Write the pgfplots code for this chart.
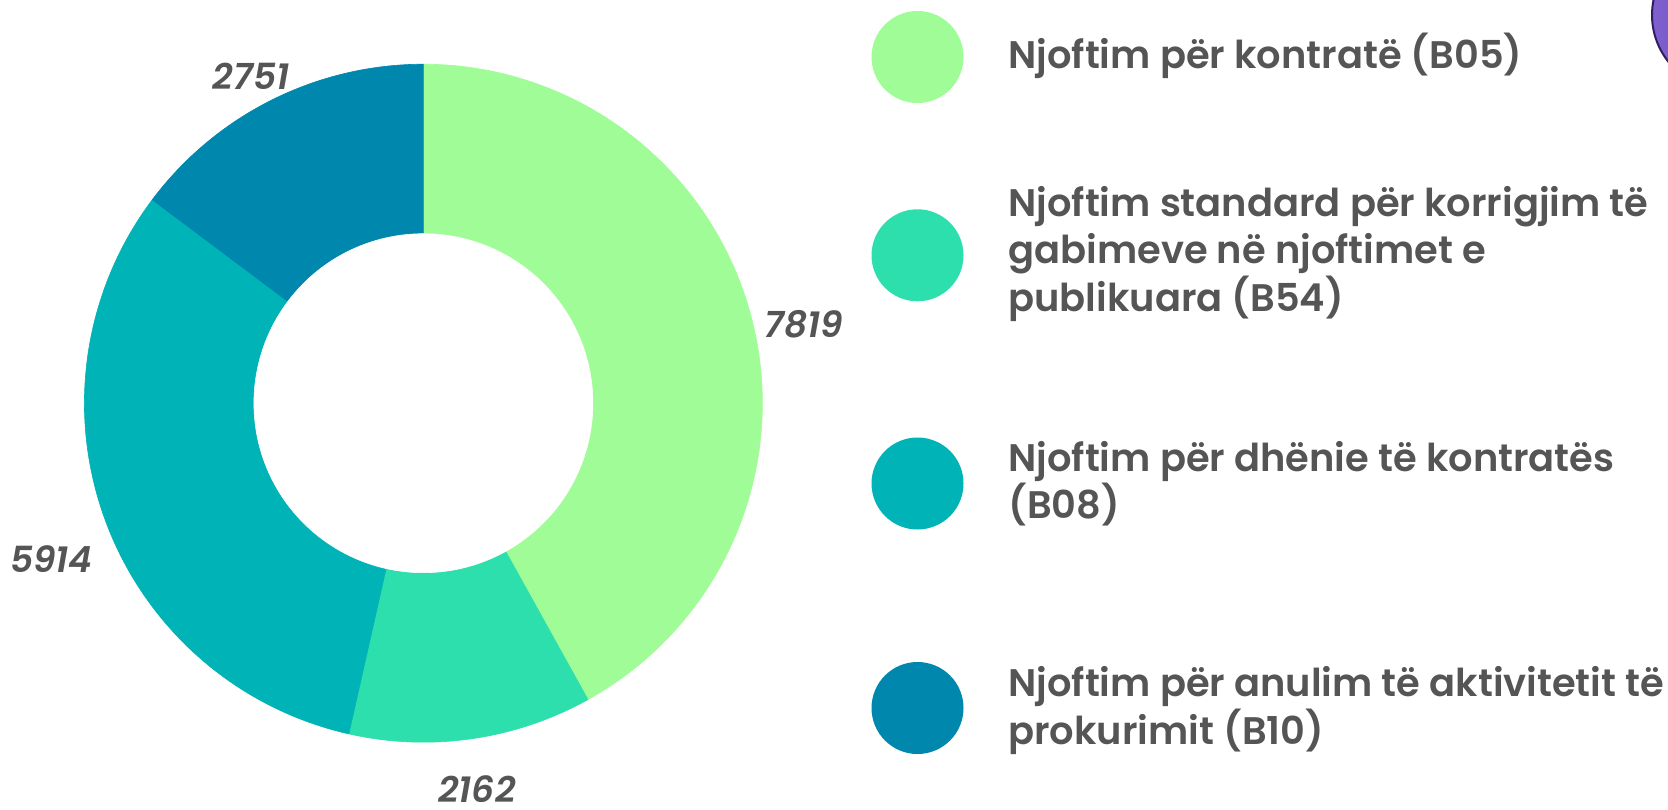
\documentclass[border=0pt]{standalone}
\usepackage{pgfplots}
\pgfplotsset{compat=1.18}
\usepackage{pgfplotstable}
\usepackage{fontspec}
\setmainfont{Poppins}[UprightFont=* SemiBold, ItalicFont=* SemiBold Italic, BoldFont=* Bold]
\definecolor{cA}{HTML}{A0FC96}
\definecolor{cB}{HTML}{2CDFAC}
\definecolor{cC}{HTML}{00B3B6}
\definecolor{cD}{HTML}{0087AD}
\definecolor{txt}{HTML}{555555}
\definecolor{purpL}{HTML}{8060D0}
\definecolor{purpR}{HTML}{5A3CA8}
\definecolor{purpE}{HTML}{2E2060}
\pgfplotstableread{
code value
B05 7819
B54 2162
B08 5914
B10 2751
}\slices
\begin{document}%
\pgfplotstablegetelem{0}{value}\of\slices\edef\vA{\pgfplotsretval}%
\pgfplotstablegetelem{1}{value}\of\slices\edef\vB{\pgfplotsretval}%
\pgfplotstablegetelem{2}{value}\of\slices\edef\vC{\pgfplotsretval}%
\pgfplotstablegetelem{3}{value}\of\slices\edef\vD{\pgfplotsretval}%
\edef\tot{\fpeval{\vA+\vB+\vC+\vD}}%
\edef\aA{90}%
\edef\aB{\fpeval{round(90-360*\vA/\tot,4)}}%
\edef\aC{\fpeval{round(90-360*(\vA+\vB)/\tot,4)}}%
\edef\aD{\fpeval{round(90-360*(\vA+\vB+\vC)/\tot,4)}}%
\edef\aE{-270}%
\begin{tikzpicture}[x=1pt,y=1pt]
\useasboundingbox (0,0) rectangle (834,404.5);
\begin{axis}[
  at={(211.7pt,202.9pt)}, anchor=center,
  scale only axis, width=339pt, height=339pt,
  xmin=-1, xmax=1, ymin=-1, ymax=1,
  hide axis, clip=false,
]
\addplot[fill=cA, draw=cA, line width=0.3pt, domain=\aB:\aA, samples=120, variable=\t] ({cos(\t)},{sin(\t)}) -- (0,0) -- cycle;
\addplot[fill=cB, draw=cB, line width=0.3pt, domain=\aC:\aB, samples=60, variable=\t] ({cos(\t)},{sin(\t)}) -- (0,0) -- cycle;
\addplot[fill=cC, draw=cC, line width=0.3pt, domain=\aD:\aC, samples=100, variable=\t] ({cos(\t)},{sin(\t)}) -- (0,0) -- cycle;
\addplot[fill=cD, draw=cD, line width=0.3pt, domain=\aE:\aD, samples=60, variable=\t] ({cos(\t)},{sin(\t)}) -- (0,0) -- cycle;
\addplot[fill=white, draw=white, line width=0.3pt, domain=0:360, samples=200, variable=\t] ({0.5*cos(\t)},{0.5*sin(\t)}) -- cycle;
\begin{scope}[every node/.style={font={\fontsize{18}{20}\selectfont\itshape}, text=txt, inner sep=0pt}]
\node at (axis cs:1.123,0.233) {\vA};
\node at (axis cs:0.158,-1.138) {\vB};
\node at (axis cs:-1.097,-0.460) {\vC};
\node at (axis cs:-0.5086,0.963) {\vD};
\end{scope}
\end{axis}
% legend
\fill[cA] (458.75,376) circle (23);
\fill[cB] (458.75,276.85) circle (23);
\fill[cC] (458.75,162.75) circle (23);
\fill[cD] (458.75,50.5) circle (23);
\begin{scope}[every node/.style={font={\fontsize{19.2}{23.5}\selectfont}, text=txt, anchor=base west, inner sep=0pt}]
\node at (504,370.35) {Njoftim për kontratë (B05)};
\node at (504,296.15) {Njoftim standard për korrigjim të};
\node at (504,272.5) {gabimeve në njoftimet e};
\node at (504,248.85) {publikuara (B54)};
\node at (504,168.65) {Njoftim për dhënie të kontratës};
\node at (504,145.35) {(B08)};
\node at (504,56.15) {Njoftim për anulim të aktivitetit të};
\node at (504,32.5) {prokurimit (B10)};
\end{scope}
\begin{scope}
\clip (0,0) rectangle (834,404.5);
\shade[left color=purpL, right color=purpR] (863.5,397) circle (37.5);
\draw[purpE, line width=1pt] (863.5,397) circle (37.5);
\end{scope}
\end{tikzpicture}%
\end{document}
